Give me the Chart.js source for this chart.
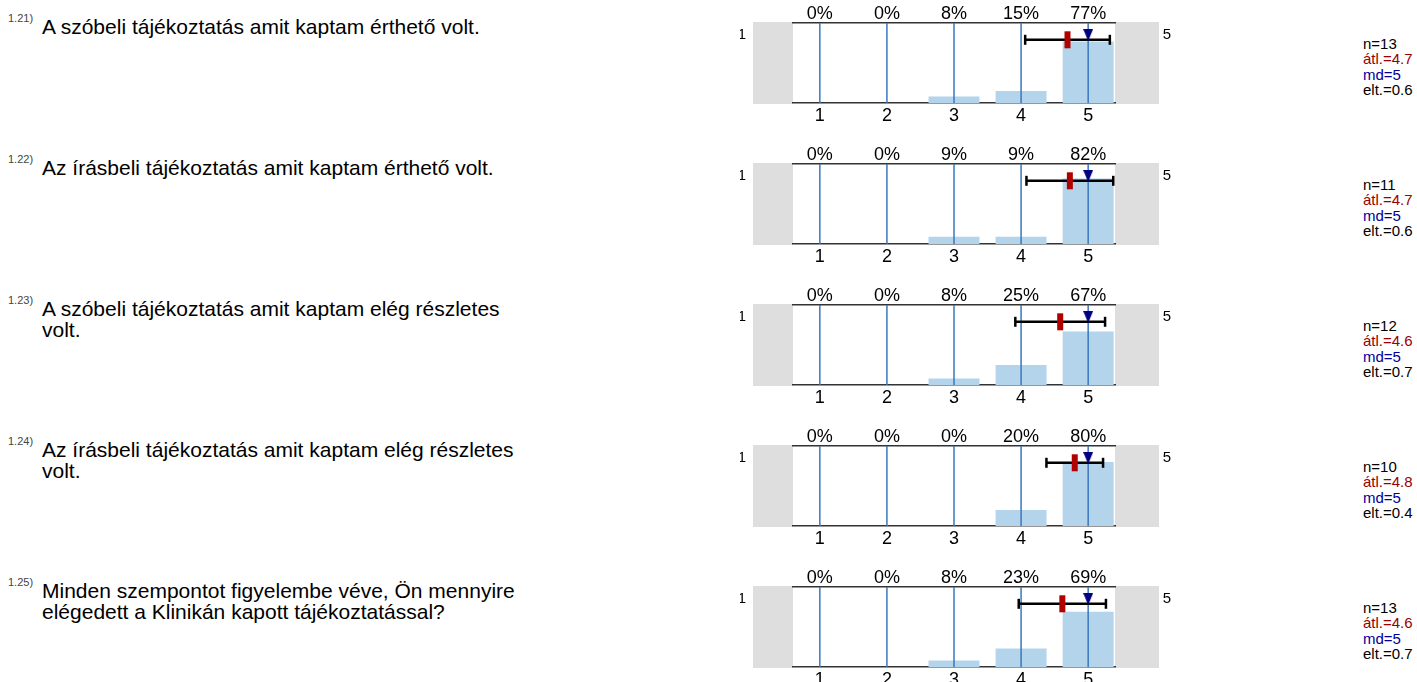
<!DOCTYPE html>
<html>
<head>
<meta charset="utf-8">
<script src="https://cdn.jsdelivr.net/npm/chart.js@4.4.1/dist/chart.umd.min.js"></script>
<style>
  body { margin: 0; background: #fff; width: 1417px; height: 682px; overflow: hidden; position: relative;
         font-family: "Liberation Sans", Arial, sans-serif; }
  .qid { position: absolute; left: 8px; font-size: 11px; color: #444; }
  .q { position: absolute; left: 42px; width: 490px; font-size: 21px; line-height: 21px; color: #000; }
  .stats { position: absolute; left: 1363px; font-size: 15px; line-height: 15.5px; color: #000; }
  canvas { position: absolute; left: 740px; }
</style>
</head>
<body>
<script>
// data
const questionIds = ["1.21)", "1.22)", "1.23)", "1.24)", "1.25)"];
const questions = [
  "A szóbeli tájékoztatás amit kaptam érthető volt.",
  "Az írásbeli tájékoztatás amit kaptam érthető volt.",
  "A szóbeli tájékoztatás amit kaptam elég részletes volt.",
  "Az írásbeli tájékoztatás amit kaptam elég részletes volt.",
  "Minden szempontot figyelembe véve, Ön mennyire elégedett a Klinikán kapott tájékoztatással?"
];
const categories = [1, 2, 3, 4, 5];
const pcts = [
  [0, 0, 8, 15, 77],
  [0, 0, 9, 9, 82],
  [0, 0, 8, 25, 67],
  [0, 0, 0, 20, 80],
  [0, 0, 8, 23, 69]
];
const nValues = [13, 11, 12, 10, 13];
const means = [4.692, 4.727, 4.583, 4.8, 4.615];
const medians = [5, 5, 5, 5, 5];
const sds = [0.631, 0.647, 0.669, 0.422, 0.65];

const ROW_H = 141;
const ERR_LEVEL = 79;   // height of the sd bar inside the plot (y scale is 0..100)
const MED_LEVEL = 85;

Chart.defaults.font.family = '"Liberation Sans", Arial, sans-serif';
Chart.defaults.animation = false;

// median marker: downward triangle
var tri = document.createElement('canvas');
tri.width = 10; tri.height = 12;
var tctx = tri.getContext('2d');
tctx.fillStyle = '#000080';
tctx.beginPath(); tctx.moveTo(0, 0); tctx.lineTo(10, 0); tctx.lineTo(5, 12); tctx.closePath(); tctx.fill();

const decor = {
  id: 'decor',
  beforeDraw(chart) {
    const ctx = chart.ctx, a = chart.chartArea;
    ctx.save();
    ctx.fillStyle = '#dedede';
    ctx.fillRect(a.left - 40, a.top - 1, 40, a.bottom - a.top + 2);
    ctx.fillRect(a.right, a.top - 1, 44, a.bottom - a.top + 2);
    ctx.fillStyle = '#000';
    ctx.font = '15px "Liberation Sans", Arial, sans-serif';
    ctx.textAlign = 'center';
    ctx.textBaseline = 'middle';
    ctx.fillText(String(categories[0]), a.left - 51, a.top + 12);
    ctx.fillText(String(categories[categories.length - 1]), a.right + 52, a.top + 12);
    ctx.restore();
  },
  afterDatasetDraw(chart, args) {
    if (args.index !== 0) return;
    const ctx = chart.ctx, a = chart.chartArea, xs = chart.scales.x;
    ctx.save();
    ctx.strokeStyle = 'rgb(55,120,190)';
    ctx.lineWidth = 1.5;
    categories.forEach(function (c) {
      const px = xs.getPixelForValue(c);
      ctx.beginPath(); ctx.moveTo(px, a.top); ctx.lineTo(px, a.bottom); ctx.stroke();
    });
    ctx.restore();
  }
};

function fixTicks(scale) {
  scale.ticks = categories.map(function (v) { return { value: v }; });
}

for (let i = 0; i < questions.length; i++) {
  const top = ROW_H * i;

  var idDiv = document.createElement('div');
  idDiv.className = 'qid';
  idDiv.style.top = (top + 12) + 'px';
  idDiv.textContent = questionIds[i];
  document.body.appendChild(idDiv);

  var qDiv = document.createElement('div');
  qDiv.className = 'q';
  qDiv.style.top = (top + 16) + 'px';
  qDiv.textContent = questions[i];
  document.body.appendChild(qDiv);

  var sDiv = document.createElement('div');
  sDiv.className = 'stats';
  sDiv.style.top = (top + 35.5) + 'px';
  sDiv.innerHTML = 'n=' + nValues[i] + '<br>' +
    '<span style="color:#990000">átl.=' + means[i].toFixed(1) + '</span><br>' +
    '<span style="color:#000099">md=' + medians[i] + '</span><br>' +
    'elt.=' + sds[i].toFixed(1);
  document.body.appendChild(sDiv);

  var cv = document.createElement('canvas');
  cv.width = 450;
  cv.height = ROW_H;
  cv.style.top = top + 'px';
  document.body.appendChild(cv);

  const rowPcts = pcts[i];
  new Chart(cv, {
    type: 'bar',
    data: {
      datasets: [
        {
          type: 'bar',
          data: categories.map(function (c, k) { return { x: c, y: rowPcts[k] }; }),
          backgroundColor: '#b4d4ec',
          borderWidth: 0,
          barPercentage: 0.76,
          categoryPercentage: 1,
          order: 3
        },
        {
          type: 'line',
          data: [{ x: means[i] - sds[i], y: ERR_LEVEL }, { x: means[i] + sds[i], y: ERR_LEVEL }],
          borderColor: '#000',
          borderWidth: 2.5,
          pointStyle: 'line',
          pointRotation: 90,
          pointRadius: 5,
          pointBorderWidth: 2.5,
          pointBorderColor: '#000',
          order: 2
        },
        {
          type: 'scatter',
          data: [{ x: means[i], y: ERR_LEVEL }],
          pointStyle: 'line',
          pointRotation: 90,
          pointRadius: 8.5,
          pointBorderWidth: 6,
          pointBorderColor: '#b00000',
          order: 1
        },
        {
          type: 'scatter',
          data: [{ x: medians[i], y: MED_LEVEL }],
          pointStyle: tri,
          order: 0
        }
      ]
    },
    options: {
      responsive: false,
      events: [],
      layout: { padding: { left: 53, right: 75, top: 0, bottom: 0 } },
      plugins: { legend: { display: false }, tooltip: { enabled: false } },
      scales: {
        x: {
          type: 'linear', position: 'bottom', min: 0.6, max: 5.4, offset: false,
          afterBuildTicks: fixTicks,
          afterFit: function (s) { s.height = 38; },
          grid: { display: false, drawTicks: false },
          border: { display: true, color: '#333', width: 1.5 },
          ticks: { color: '#000', font: { size: 18 }, padding: 2, maxRotation: 0, autoSkip: false }
        },
        xTop: {
          type: 'linear', position: 'top', min: 0.6, max: 5.4, offset: false,
          afterBuildTicks: fixTicks,
          afterFit: function (s) { s.height = 23; },
          grid: { display: false, drawTicks: false },
          border: { display: true, color: '#333', width: 1.5 },
          ticks: {
            color: '#000', font: { size: 18 }, padding: -2, maxRotation: 0, autoSkip: false,
            callback: function (v, idx) { return rowPcts[idx] + '%'; }
          }
        },
        y: { min: 0, max: 100, display: false }
      }
    },
    plugins: [decor]
  });
}
</script>
</body>
</html>
